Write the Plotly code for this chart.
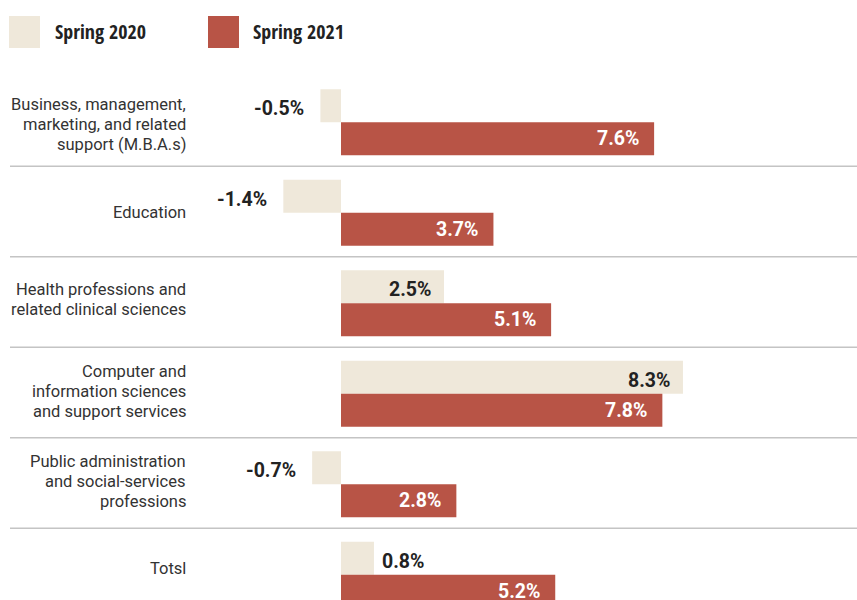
import plotly.graph_objects as go

categories = [
    "Business, management,<br>marketing, and related<br>support (M.B.A.s)",
    "Education",
    "Health professions and<br>related clinical sciences",
    "Computer and<br>information sciences<br>and support services",
    "Public administration<br>and social-services<br>professions",
    "Totsl",
]
spring_2020 = [-0.5, -1.4, 2.5, 8.3, -0.7, 0.8]
spring_2021 = [7.6, 3.7, 5.1, 7.8, 2.8, 5.2]
series_names = ["Spring 2020", "Spring 2021"]

# layout-only nudges (px, positive = down) for the category labels
LABEL_NUDGE = [2, 0, -4, -2, -3, -6]

BEIGE = "#EFE8DA"
RED = "#B85446"
W, H = 857, 600
ROW_PX = 90.5
FIRST_CENTER = 122.2
TOP = FIRST_CENTER - ROW_PX / 2
PX_PER_UNIT = 41.2
ZERO_PX = 341
BAR_W = 33 / ROW_PX
LINE_PX = 20
SEP_OFF = 44 / ROW_PX

ypos = list(range(len(categories)))

fig = go.Figure()
fig.add_trace(go.Bar(y=ypos, x=spring_2020, orientation="h", width=BAR_W, offset=-BAR_W,
                     marker=dict(color=BEIGE, line=dict(width=0)), name=series_names[0],
                     hoverinfo="skip"))
fig.add_trace(go.Bar(y=ypos, x=spring_2021, orientation="h", width=BAR_W, offset=0,
                     marker=dict(color=RED, line=dict(width=0)), name=series_names[1],
                     hoverinfo="skip"))

annotations = []
shapes = []
FONT_VAL = "Roboto"
VAL_SIZE = 19.5
for i, (a, b) in enumerate(zip(spring_2020, spring_2021)):
    lines = categories[i].split("<br>")
    n = len(lines)
    for k, ln in enumerate(lines):
        off = (k - (n - 1) / 2) * LINE_PX + LABEL_NUDGE[i]
        annotations.append(dict(x=186 / W, xref="paper", y=i, yref="y", text=ln,
                                xanchor="right", yanchor="middle", align="right", showarrow=False,
                                xshift=2, yshift=-off,
                                font=dict(family="Roboto", size=16.5, color="#333333")))
    ya = i - BAR_W / 2
    if a < 0:
        xa, xs = "right", -14
    elif a < 2:
        xa, xs = "left", 6
    else:
        xa, xs = "right", -11
    annotations.append(dict(x=a, y=ya, xref="x", yref="y", text=f"{a:.1f}%", xanchor=xa,
                            xshift=xs, yshift=-3, showarrow=False,
                            font=dict(family=FONT_VAL, size=VAL_SIZE, color="#222222", weight="bold")))
    annotations.append(dict(x=b, y=i + BAR_W / 2, xref="x", yref="y", text=f"{b:.1f}%",
                            xanchor="right", xshift=-13, showarrow=False,
                            font=dict(family=FONT_VAL, size=VAL_SIZE, color="#ffffff", weight="bold")))
    if i < len(categories) - 1:
        shapes.append(dict(type="line", xref="paper", yref="y", x0=10 / W, x1=1,
                           y0=i + SEP_OFF, y1=i + SEP_OFF, line=dict(color="#c4c4c4", width=1.5)))

def py2paper(py):
    return (H - py) / (H - TOP)

LEG_FONT = "'Liberation Sans Narrow', 'Noto Sans Condensed', 'Open Sans Condensed', 'DejaVu Sans Condensed', Roboto"
for j, (col, nm, x0, tx) in enumerate([(BEIGE, series_names[0], 9, 55), (RED, series_names[1], 208, 253)]):
    shapes.append(dict(type="rect", xref="paper", yref="paper", x0=x0 / W, x1=(x0 + 31) / W,
                       y0=py2paper(48), y1=py2paper(16), fillcolor=col, line=dict(width=0)))
    annotations.append(dict(x=tx / W, y=py2paper(31), xref="paper", yref="paper", text=nm,
                            xanchor="left", yanchor="middle", showarrow=False, xshift=-2,
                            font=dict(family=LEG_FONT, size=20, color="#222222")))

fig.update_layout(
    width=W, height=H,
    margin=dict(l=0, r=0, t=TOP, b=0, pad=0),
    paper_bgcolor="white", plot_bgcolor="white",
    showlegend=False,
    barmode="overlay",
    xaxis=dict(range=[-ZERO_PX / PX_PER_UNIT, (W - ZERO_PX) / PX_PER_UNIT], visible=False, fixedrange=True),
    yaxis=dict(range=[-0.5 + (H - TOP) / ROW_PX, -0.5], visible=False, fixedrange=True),
    annotations=annotations,
    shapes=shapes,
)

fig.write_html("out.html")
